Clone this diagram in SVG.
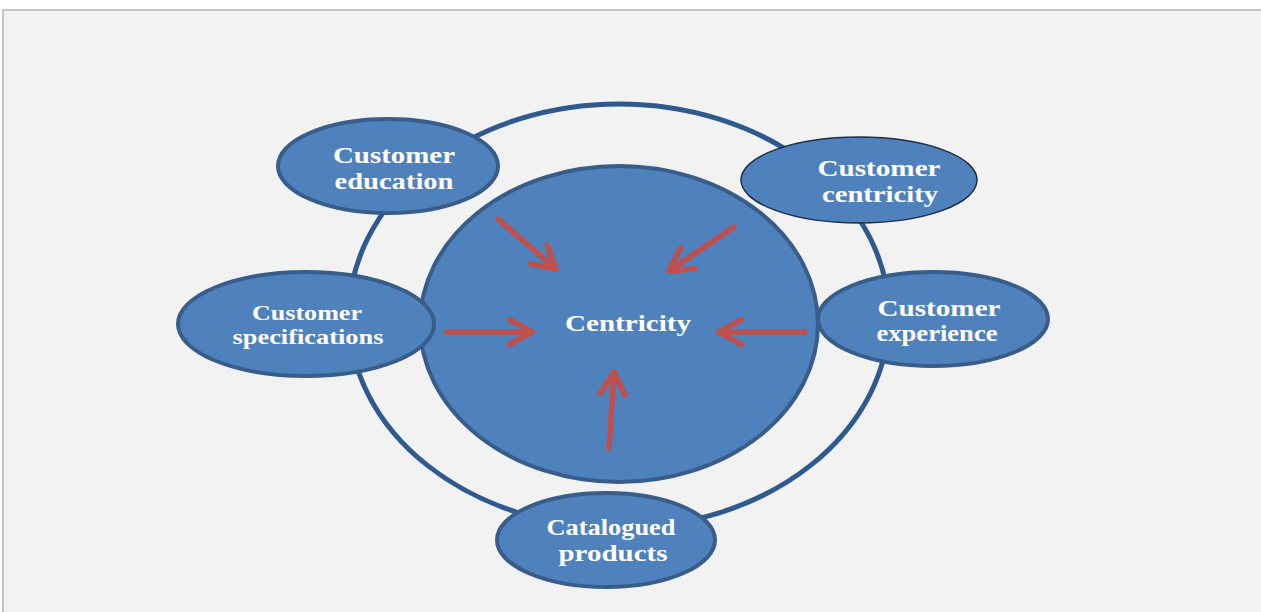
<svg xmlns="http://www.w3.org/2000/svg" width="1261" height="612" viewBox="0 0 1261 612">
<defs>
<style>
.lbl{font-family:"Liberation Serif","Times New Roman",serif;font-weight:bold;fill:#ffffff;text-anchor:middle}
.node{fill:#4f81bd;stroke:#385d8a;stroke-width:4}
.arr{stroke:#c0504d;stroke-width:5.5;fill:none;stroke-linecap:round;marker-end:url(#ah)}
</style>
<marker id="ah" viewBox="0 0 10 10" refX="9" refY="5" markerWidth="5.5" markerHeight="5.5" orient="auto" markerUnits="strokeWidth">
<polyline points="1.5,0.8 9,5 1.5,9.2" fill="none" stroke="#c0504d" stroke-width="1.8" stroke-linecap="round" stroke-linejoin="round"/>
</marker>
</defs>
<rect x="0" y="0" width="1261" height="612" fill="#ffffff"/>
<rect x="3" y="10" width="1260" height="604" fill="#f2f2f2" stroke="#c4c4c4" stroke-width="2"/>
<g id="ring">
<ellipse cx="619" cy="316" rx="270" ry="212" fill="none" stroke="#2f5a8f" stroke-width="5"/>
</g>
<g id="centricity">
<ellipse class="node" cx="619" cy="324" rx="199" ry="158"/>
<text class="lbl" x="628" y="331" font-size="24" textLength="126" lengthAdjust="spacingAndGlyphs">Centricity</text>
</g>
<g id="customer-education">
<ellipse class="node" cx="388" cy="166" rx="110" ry="47"/>
<text class="lbl" x="394" y="163" font-size="23" textLength="122" lengthAdjust="spacingAndGlyphs">Customer</text>
<text class="lbl" x="394" y="189" font-size="23" textLength="119" lengthAdjust="spacingAndGlyphs">education</text>
</g>
<g id="customer-centricity">
<ellipse cx="859" cy="180" rx="118" ry="43" fill="#4f81bd" stroke="#1f2f44" stroke-width="1.5"/>
<text class="lbl" x="879" y="176" font-size="23" textLength="123" lengthAdjust="spacingAndGlyphs">Customer</text>
<text class="lbl" x="880" y="202" font-size="23" textLength="116" lengthAdjust="spacingAndGlyphs">centricity</text>
</g>
<g id="customer-specifications">
<ellipse class="node" cx="306" cy="324" rx="128" ry="52"/>
<text class="lbl" x="307" y="320" font-size="21" textLength="110" lengthAdjust="spacingAndGlyphs">Customer</text>
<text class="lbl" x="308" y="344" font-size="21" textLength="151" lengthAdjust="spacingAndGlyphs">specifications</text>
</g>
<g id="customer-experience">
<ellipse class="node" cx="933" cy="319" rx="115" ry="47"/>
<text class="lbl" x="939" y="316" font-size="23" textLength="123" lengthAdjust="spacingAndGlyphs">Customer</text>
<text class="lbl" x="937" y="341" font-size="23" textLength="121" lengthAdjust="spacingAndGlyphs">experience</text>
</g>
<g id="catalogued-products">
<ellipse class="node" cx="606" cy="540" rx="109" ry="47"/>
<text class="lbl" x="611" y="535" font-size="23" textLength="129" lengthAdjust="spacingAndGlyphs">Catalogued</text>
<text class="lbl" x="613" y="561" font-size="23" textLength="109" lengthAdjust="spacingAndGlyphs">products</text>
</g>
<g id="connectors">
<line class="arr" x1="498" y1="219" x2="556" y2="269"/>
<line class="arr" x1="734" y1="227" x2="669" y2="271"/>
<line class="arr" x1="447" y1="332" x2="532" y2="332"/>
<line class="arr" x1="805" y1="332" x2="719" y2="332"/>
<line class="arr" x1="609" y1="448" x2="614" y2="372"/>
</g>
</svg>
